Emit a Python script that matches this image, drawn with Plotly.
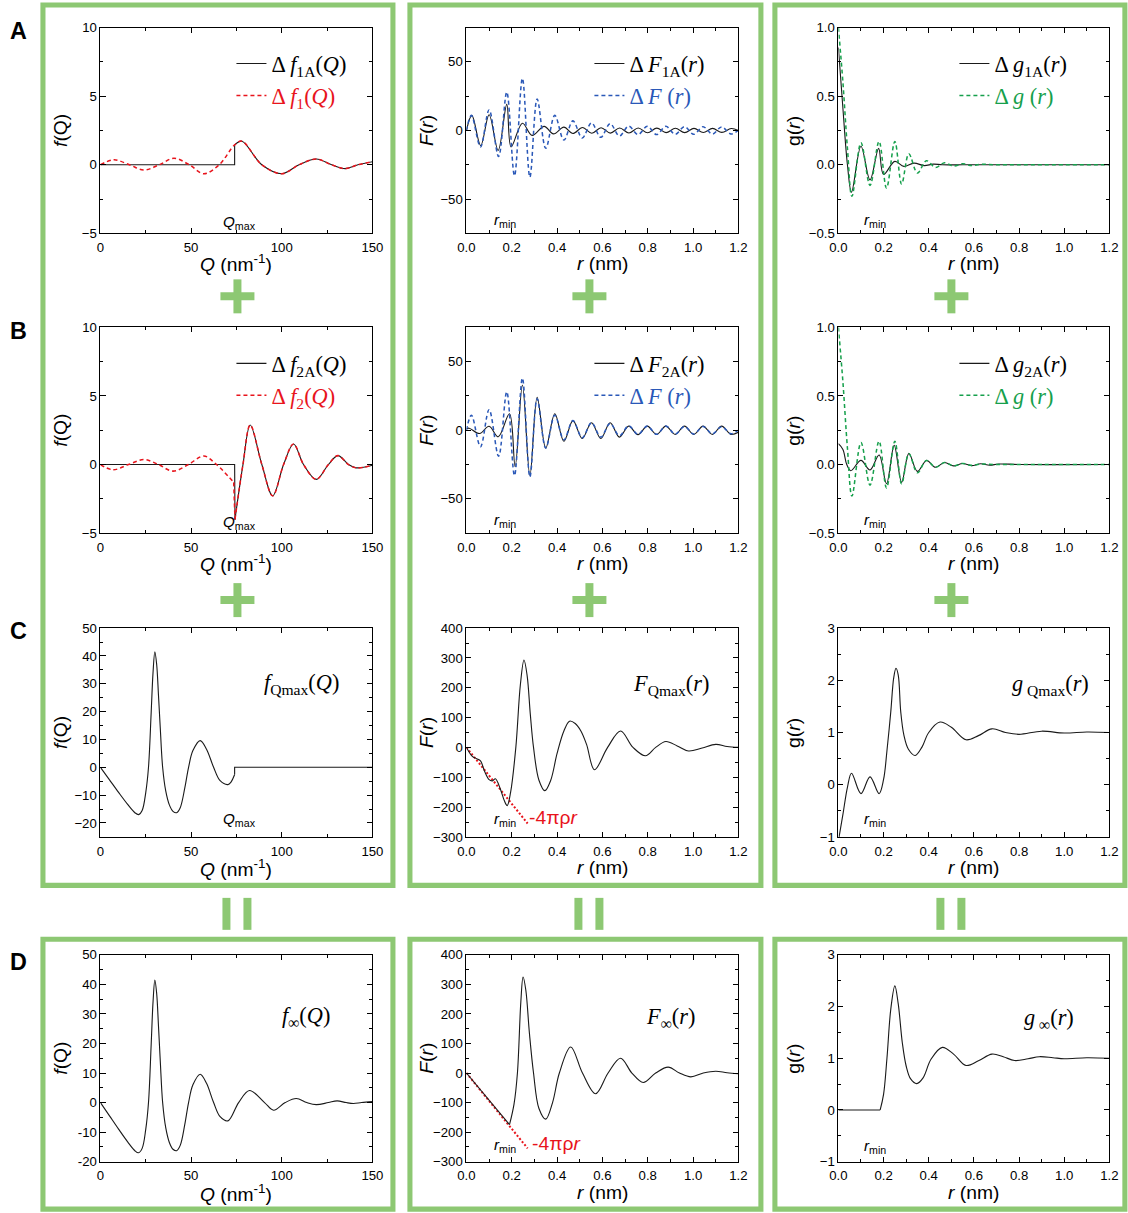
import plotly.graph_objects as go
from plotly.subplots import make_subplots

W, H = 1128, 1213          # reference picture size (layout is designed in these pixels)
# the photographed page is shrunk by SX/SY and the plot starts OX/OY page px in
SX, SY = 0.9825, 0.9885
OX, OY = 8.7, 6.5
WF, HF = round(W / SX - OX), round(H / SY - OY)
K = (1 / SX + 1 / SY) / 2  # size factor for fonts / pixel lengths

# ---------------- data ----------------
Q_MAX = 74.0
R_LINE = [0.0, 0.27]      # -4πρr guide line (r)
F_LINE = [0.0, -255.0]    # -4πρr guide line (F)

# tick labels of panel D1 (written with plain hyphens in the reference)
d1_tickvals = [-20, -10, 0, 10, 20, 30, 40, 50]
d1_ticktext = ["-20", "-10", "0", "10", "20", "30", "40", "50"]

# Row A, col 1: Δf1(Q) (red dashed); Δf1A(Q) is 0 below Qmax and equal to it above
a1_q = [0, 7.5, 16, 24, 32.5, 40.5, 49, 57, 65.5, 74, 78, 89, 100, 109.5, 119, 127.5, 135, 142, 150]
a1_f = [0, 0.36, 0, -0.38, 0, 0.48, 0, -0.65, 0, 1.45, 1.72, 0, -0.65, 0, 0.42, 0, -0.28, 0, 0.22]

# Row B, col 1: Δf2(Q) before Qmax (red only), common part after Qmax
b1_pre_q = [0, 7, 15.5, 24, 32, 40, 48.5, 57, 64, 73.5]
b1_pre_f = [0, -0.38, 0, 0.36, 0, -0.48, 0, 0.62, 0, -1.3]
b1_post_q = [74.2, 78.6, 82.6, 89, 95, 101, 106.5, 112, 119, 125.7, 131, 136.8, 141, 150]
b1_post_f = [-4.0, 0, 2.88, 0, -2.28, 0, 1.5, 0, -1.08, 0, 0.65, 0, -0.24, -0.05]

# Row C, col 1: f_Qmax(Q)
c1_q = [0, 5, 10, 15, 19, 21, 23, 25, 26.5, 28, 29, 30, 31, 32, 33, 34.3, 36, 38, 40, 42, 44, 46.5,
        48.6, 51, 55, 58.5, 62.4, 66, 70.3, 72, 74]
c1_f = [0, -4.5, -9, -13.3, -16.3, -17, -15.5, -9, 0, 20, 34, 41.5, 37, 26, 14, 0, -8.5, -13.5, -15.8,
        -16.3, -14.5, -7.5, 0, 6, 9.6, 6.5, 0, -4.8, -6.2, -5.3, -2.6]

# Row D, col 1: f_inf(Q)
d1_q = [0, 5, 10, 15, 19, 21, 23, 25, 26.5, 28, 29, 30, 31, 32, 33, 34.3, 36, 38, 40, 42, 44, 46.5,
        48.6, 51, 55, 58.5, 62.4, 66, 70.3, 76.2, 82.2, 90.5, 95.5, 101.9, 108, 113.8, 119, 125.7,
        130.5, 135.5, 139.5, 144, 150]
d1_f = [0, -4.5, -9, -13.3, -16.3, -17, -15.5, -9, 0, 20, 34, 41.5, 37, 26, 14, 0, -8.5, -13.5, -15.8,
        -16.3, -14.5, -7.5, 0, 6, 9.6, 6.5, 0, -4.8, -6.2, 0, 4.1, 0, -2.6, 0, 1.36, 0, -0.7, 0,
        0.56, 0, -0.3, 0, 0.3]

# Row A, col 2: ΔF1A(r) (black)
a2_r = [0, 0.024, 0.063, 0.1, 0.14, 0.178, 0.197, 0.247, 0.29, 0.343, 0.384, 0.43, 0.47, 0.512,
        0.553, 0.594, 0.635, 0.676, 0.717, 0.758, 0.799, 0.84, 0.881, 0.922, 0.963, 1.004, 1.045,
        1.086, 1.127, 1.168, 1.2]
a2_F = [0, 11, -11, 11.5, -14.5, 19, -12, 5.3, -3.6, 3, -2.5, 2.4, -2.2, 2.2, -2, 2, -1.9, 1.8,
        -1.8, 1.8, -1.7, 1.7, -1.6, 1.6, -1.6, 1.5, -1.5, 1.5, -1.4, 1.4, 0]

# Rows A/B, col 2: ΔF(r) (blue dashed)
dF_r = [0, 0.022, 0.062, 0.1, 0.142, 0.178, 0.212, 0.247, 0.28, 0.312, 0.35, 0.39, 0.43, 0.47,
        0.511, 0.552, 0.593, 0.634, 0.675, 0.716, 0.757, 0.798, 0.839, 0.88, 0.921, 0.962, 1.003,
        1.044, 1.085, 1.126, 1.167, 1.2]
dF_F = [0, 11, -12, 15, -19, 28, -33, 38, -34, 23, -13, 11, -7, 7, -5.5, 5.5, -5, 5, -4, 3.2, -3,
        3, -3, 3, -2.8, 2.8, -2.8, 2.8, -2.6, 2.6, -2.5, 0]

# Row B, col 2: ΔF2A(r) (black)
b2_r = [0, 0.012, 0.058, 0.1, 0.14, 0.19, 0.215, 0.247, 0.28, 0.312, 0.35, 0.39, 0.43, 0.47,
        0.511, 0.552, 0.593, 0.634, 0.675, 0.716, 0.757, 0.798, 0.839, 0.88, 0.921, 0.962, 1.003,
        1.044, 1.085, 1.126, 1.167, 1.2]
b2_F = [1.0, 1.5, -2.4, 2.9, -4.8, 12, -26.5, 33, -33, 24, -13, 12, -8, 7, -6, 5.5, -6, 5.5, -5,
        3, -3.2, 3, -3, 3, -3, 3, -3, 3, -3, 3, -3, -1.5]

# Row A, col 3: Δg1A(r) (black)
a3_r = [0, 0.02, 0.04, 0.058, 0.1, 0.14, 0.178, 0.2, 0.25, 0.29, 0.335, 0.38, 0.42, 0.46, 0.55, 0.7, 1.2]
a3_g = [0.855, 0.41, 0.0, -0.2, 0.135, -0.11, 0.12, -0.07, 0.025, -0.012, 0.012, -0.006, 0.005,
        0.0, 0.0, 0.0, 0.0]

# Rows A/B, col 3: Δg(r) (green dashed)
dg_r = [0, 0.02, 0.04, 0.06, 0.1, 0.14, 0.18, 0.213, 0.25, 0.28, 0.312, 0.35, 0.39, 0.43, 0.47,
        0.51, 0.55, 0.59, 0.63, 0.7, 0.8, 1.2]
dg_g = [1.0, 0.6, 0.12, -0.23, 0.16, -0.15, 0.17, -0.17, 0.17, -0.14, 0.08, -0.06, 0.03, -0.02,
        0.015, -0.01, 0.008, -0.006, 0.004, 0.0, 0.0, 0.0]

# Row B, col 3: Δg2A(r) (black)
b3_r = [0, 0.02, 0.037, 0.055, 0.1, 0.14, 0.18, 0.213, 0.247, 0.28, 0.312, 0.35, 0.39, 0.43,
        0.47, 0.51, 0.55, 0.59, 0.63, 0.67, 0.71, 0.8, 1.2]
b3_g = [0.152, 0.11, 0.0, -0.045, 0.03, -0.04, 0.07, -0.14, 0.14, -0.13, 0.08, -0.05, 0.03,
        -0.02, 0.015, -0.01, 0.008, -0.008, 0.006, -0.005, 0.004, 0.0, 0.0]

# Row C, col 2: F_Qmax(r)
c2_r = [0, 0.026, 0.045, 0.062, 0.08, 0.1, 0.115, 0.128, 0.15, 0.168, 0.18, 0.195, 0.218, 0.238,
        0.254, 0.268, 0.282, 0.296, 0.32, 0.346, 0.372, 0.4, 0.43, 0.455, 0.48, 0.505, 0.53, 0.565,
        0.623, 0.68, 0.735, 0.79, 0.835, 0.88, 0.93, 0.98, 1.04, 1.1, 1.15, 1.2]
c2_F = [0, -30, -38, -45, -80, -108, -112, -105, -140, -180, -195, -150, 0, 210, 293, 240, 110, 0,
        -110, -145, -110, -20, 55, 88, 80, 55, 10, -75, 0, 55, 0, -28, 0, 20, 5, -12, -2, 10, 3, 0]

# Row D, col 2: F_inf(r); straight part below r_min, then oscillating part
d2_lin_r = [0, 0.19]
d2_lin_F = [0, -175]
d2_r = [0.19, 0.21, 0.225, 0.24, 0.25, 0.262, 0.278, 0.296, 0.32, 0.35, 0.38, 0.41, 0.46, 0.512,
        0.57, 0.625, 0.68, 0.73, 0.78, 0.835, 0.89, 0.94, 0.99, 1.045, 1.1, 1.15, 1.2]
d2_F = [-175, -105, 0, 240, 325, 281, 134, 0, -120, -156, -100, 0, 88, 0, -70, 0, 50, 0, -32, 0,
        20, 0, -13, 0, 6, 1, -2]

# Row C, col 3: g_Qmax(r)
c3_r = [0.003, 0.02, 0.04, 0.058, 0.1, 0.14, 0.18, 0.2, 0.215, 0.232, 0.245, 0.255, 0.265, 0.276,
        0.29, 0.31, 0.34, 0.37, 0.4, 0.45, 0.5, 0.565, 0.62, 0.68, 0.74, 0.8, 0.9, 1.0, 1.1, 1.2]
c3_g = [-1.0, -0.57, -0.05, 0.22, -0.17, 0.15, -0.17, 0.1, 0.65, 1.4, 2.05, 2.23, 2.1, 1.4, 0.95,
        0.68, 0.56, 0.72, 1.0, 1.2, 1.1, 0.86, 0.94, 1.07, 1.0, 0.965, 1.025, 0.99, 1.01, 1.0]

# Row D, col 3: g_inf(r); zero below r_min
d3_lin_r = [0, 0.185]
d3_lin_g = [0, 0]
d3_r = [0.185, 0.2, 0.215, 0.232, 0.25, 0.265, 0.283, 0.3, 0.32, 0.347, 0.375, 0.41, 0.46, 0.51,
        0.565, 0.62, 0.68, 0.73, 0.78, 0.84, 0.89, 0.95, 1.0, 1.1, 1.2]
d3_g = [0, 0.3, 1.0, 1.95, 2.4, 2.05, 1.3, 0.85, 0.6, 0.51, 0.62, 0.98, 1.21, 1.08, 0.86, 0.95,
        1.08, 1.03, 0.955, 0.99, 1.03, 1.01, 0.99, 1.01, 1.0]

# ---------------- styling ----------------
BLACK = "#1a1a1a"
RED = "#e8141c"
BLUE = "#2a58b8"
GREEN = "#16a04c"
FRAME = "#8dc873"
SANS = "Liberation Sans"
SERIF = "Liberation Serif"

# plot-area positions in reference pixels
col_px = [(100, 372), (466, 738), (838, 1109)]
row_px = [(27, 233), (327, 533), (628, 837), (955, 1162)]
x_title_gap = [30, 30, 31, 31]


def px(x):
    return (x / SX - OX) / WF


def py(y):
    return 1 - (y / SY - OY) / HF


def fs(n):
    return n * K


fig = make_subplots(rows=4, cols=3)


def add_line(x, y, row, col, color, width=1.1, dash=None, shape="spline", name="",
             legend="legend", showlegend=False):
    fig.add_trace(go.Scatter(x=x, y=y, mode="lines", name=name, legend=legend,
                             showlegend=showlegend, hoverinfo="skip",
                             line=dict(color=color, width=width * K, dash=dash, shape=shape,
                                       smoothing=1.0)),
                  row=row, col=col)


DASH = "4px,3px"
DOT = "2px,2px"

# ---- Row A ----
qa = [q for q in a1_q if q >= Q_MAX]
fa = [f for q, f in zip(a1_q, a1_f) if q >= Q_MAX]
add_line([0, Q_MAX, Q_MAX], [0, 0, fa[0]], 1, 1, BLACK, shape="linear",
         name="Δ <i>f</i><sub>1A</sub>(<i>Q</i>)", legend="legend", showlegend=True)
add_line(qa, fa, 1, 1, BLACK, legend="legend")
add_line(a1_q, a1_f, 1, 1, RED, 1.5, DASH,
         name="<span style='color:%s'>Δ <i>f</i><sub>1</sub>(<i>Q</i>)</span>" % RED,
         legend="legend", showlegend=True)

add_line(a2_r, a2_F, 1, 2, BLACK, name="Δ <i>F</i><sub>1A</sub>(<i>r</i>)",
         legend="legend2", showlegend=True)
add_line(dF_r, dF_F, 1, 2, BLUE, 1.5, DASH,
         name="<span style='color:%s'>Δ <i>F</i> (<i>r</i>)</span>" % BLUE,
         legend="legend2", showlegend=True)

add_line(a3_r, a3_g, 1, 3, BLACK, name="Δ <i>g</i><sub>1A</sub>(<i>r</i>)",
         legend="legend3", showlegend=True)
add_line(dg_r, dg_g, 1, 3, GREEN, 1.5, DASH,
         name="<span style='color:%s'>Δ <i>g</i> (<i>r</i>)</span>" % GREEN,
         legend="legend3", showlegend=True)

# ---- Row B ----
add_line([0, Q_MAX, b1_post_q[0]], [0, 0, b1_post_f[0]], 2, 1, BLACK, shape="linear",
         name="Δ <i>f</i><sub>2A</sub>(<i>Q</i>)", legend="legend4", showlegend=True)
add_line(b1_post_q, b1_post_f, 2, 1, BLACK, legend="legend4")
add_line(b1_pre_q, b1_pre_f, 2, 1, RED, 1.5, DASH,
         name="<span style='color:%s'>Δ <i>f</i><sub>2</sub>(<i>Q</i>)</span>" % RED,
         legend="legend4", showlegend=True)
add_line([b1_pre_q[-1], b1_post_q[0]], [b1_pre_f[-1], b1_post_f[0]], 2, 1, RED, 1.5, DASH,
         shape="linear", legend="legend4")
add_line(b1_post_q, b1_post_f, 2, 1, RED, 1.5, DASH, legend="legend4")

add_line(b2_r, b2_F, 2, 2, BLACK, name="Δ <i>F</i><sub>2A</sub>(<i>r</i>)",
         legend="legend5", showlegend=True)
add_line(dF_r, dF_F, 2, 2, BLUE, 1.5, DASH,
         name="<span style='color:%s'>Δ <i>F</i> (<i>r</i>)</span>" % BLUE,
         legend="legend5", showlegend=True)

add_line(b3_r, b3_g, 2, 3, BLACK, name="Δ <i>g</i><sub>2A</sub>(<i>r</i>)",
         legend="legend6", showlegend=True)
add_line(dg_r, dg_g, 2, 3, GREEN, 1.5, DASH,
         name="<span style='color:%s'>Δ <i>g</i> (<i>r</i>)</span>" % GREEN,
         legend="legend6", showlegend=True)

# ---- Row C ----
add_line(c1_q, c1_f, 3, 1, BLACK)
add_line([c1_q[-1], Q_MAX, 150], [c1_f[-1], 0, 0], 3, 1, BLACK, shape="linear")
add_line(R_LINE, F_LINE, 3, 2, RED, 2, DOT, shape="linear")
add_line(c2_r, c2_F, 3, 2, BLACK)
add_line(c3_r, c3_g, 3, 3, BLACK)

# ---- Row D ----
add_line(d1_q, d1_f, 4, 1, BLACK)
add_line(R_LINE, F_LINE, 4, 2, RED, 2, DOT, shape="linear")
add_line(d2_lin_r, d2_lin_F, 4, 2, BLACK, shape="linear")
add_line(d2_r, d2_F, 4, 2, BLACK)
add_line(d3_lin_r, d3_lin_g, 4, 3, BLACK, shape="linear")
add_line(d3_r, d3_g, 4, 3, BLACK)

# ---------------- axes ----------------
x_specs = {
    1: dict(range=[0, 150], dtick=50, minor=25, fmt="d"),
    2: dict(range=[0, 1.2], dtick=0.2, minor=0.1, fmt=".1f"),
    3: dict(range=[0, 1.2], dtick=0.2, minor=0.1, fmt=".1f"),
}
y_specs = {
    (1, 1): ([-5, 10], 5, 2.5, "d"), (1, 2): ([-75, 75], 50, 25, "d"), (1, 3): ([-0.5, 1.0], 0.5, 0.25, ".1f"),
    (2, 1): ([-5, 10], 5, 2.5, "d"), (2, 2): ([-75, 75], 50, 25, "d"), (2, 3): ([-0.5, 1.0], 0.5, 0.25, ".1f"),
    (3, 1): ([-25, 50], 10, 5, "d"), (3, 2): ([-300, 400], 100, 50, "d"), (3, 3): ([-1, 3], 1, 0.5, "d"),
    (4, 1): ([-20, 50], 10, 5, "d"), (4, 2): ([-300, 400], 100, 50, "d"), (4, 3): ([-1, 3], 1, 0.5, "d"),
}
x_titles = {1: "<i>Q</i> (nm<sup>-1</sup>)", 2: "<i>r</i> (nm)", 3: "<i>r</i> (nm)"}
y_titles = {1: "<i>f</i>(Q)", 2: "<i>F</i>(<i>r</i>)", 3: "g(<i>r</i>)"}
y_title_x = {1: 60, 2: 426, 3: 793}

common = dict(showline=True, linecolor="black", linewidth=1, mirror="allticks",
              ticks="inside", ticklen=fs(5), tickwidth=1, tickcolor="black",
              showgrid=False, zeroline=False,
              tickfont=dict(family=SANS, size=fs(13), color="black"))

annotations = []
for r in range(1, 5):
    for c in range(1, 4):
        idx = (r - 1) * 3 + c
        xs = x_specs[c]
        yr, ydt, ymin, yfmt = y_specs[(r, c)]
        x0, x1 = col_px[c - 1]
        y0, y1 = row_px[r - 1]
        fig.layout["xaxis%d" % idx].update(
            domain=[px(x0), px(x1)], range=xs["range"], dtick=xs["dtick"], tick0=0,
            tickformat=xs["fmt"], ticklabelstandoff=2,
            minor=dict(dtick=xs["minor"], tick0=0, ticks="inside", ticklen=fs(3), tickcolor="black"),
            **common)
        fig.layout["yaxis%d" % idx].update(
            domain=[py(y1), py(y0)], range=yr, dtick=ydt, tick0=0, tickformat=yfmt,
            minor=dict(dtick=ymin, tick0=0, ticks="inside", ticklen=fs(3), tickcolor="black"),
            **common)
        # axis titles
        annotations.append(dict(text=x_titles[c], x=px((x0 + x1) / 2),
                                y=py(y1 + x_title_gap[r - 1]),
                                xref="paper", yref="paper", showarrow=False,
                                xanchor="center", yanchor="middle",
                                font=dict(family=SANS, size=fs(19), color="black")))
        annotations.append(dict(text=y_titles[c], x=px(y_title_x[c]), y=py((y0 + y1) / 2),
                                xref="paper", yref="paper", showarrow=False, textangle=-90,
                                xanchor="center", yanchor="middle",
                                font=dict(family=SANS, size=fs(19), color="black")))

# panel D1 writes its negative labels with plain hyphens
fig.layout["yaxis10"].update(tickmode="array", tickvals=d1_tickvals, ticktext=d1_ticktext)


def note(text, x, y, size=15, color="black", family=SANS):
    annotations.append(dict(text=text, x=px(x), y=py(y), xref="paper", yref="paper",
                            showarrow=False, xanchor="center", yanchor="middle",
                            font=dict(family=family, size=fs(size), color=color)))


# Qmax / rmin markers
QM = "<i>Q</i><sub>max</sub>"
RM = "<i>r</i><sub>min</sub>"
for yy in (222, 522, 820):
    note(QM, 239, yy)
for yy in (220, 520, 820):
    note(RM, 505, yy)
    note(RM, 875, yy)
note(RM, 505, 1146)
note(RM, 875, 1147)
note("-4πρ<i>r</i>", 553, 818, size=19, color=RED)
note("-4πρ<i>r</i>", 556, 1144, size=19, color=RED)

# function labels in rows C and D
note("<i>f</i><sub>Qmax</sub>(<i>Q</i>)", 301, 684, size=22, family=SERIF)
note("<i>F</i><sub>Qmax</sub>(<i>r</i>)", 671, 685, size=22, family=SERIF)
note("<i>g</i><sub> Qmax</sub>(<i>r</i>)", 1050, 685, size=22, family=SERIF)
note("<i>f</i><sub>∞</sub>(<i>Q</i>)", 306, 1017, size=22, family=SERIF)
note("<i>F</i><sub>∞</sub>(<i>r</i>)", 670, 1018, size=22, family=SERIF)
note("<i>g</i><sub> ∞</sub>(<i>r</i>)", 1049, 1019, size=22, family=SERIF)

# panel letters
for lab, yy in (("A", 30), ("B", 331), ("C", 631), ("D", 962)):
    note("<b>%s</b>" % lab, 18, yy, size=23)

# ---------------- frames, plus and equal signs ----------------
shapes = []


def rect_outline(x0, y0, x1, y1):
    shapes.append(dict(type="rect", xref="paper", yref="paper", x0=px(x0), x1=px(x1),
                       y0=py(y1), y1=py(y0), line=dict(color=FRAME, width=5 * K),
                       fillcolor="rgba(0,0,0,0)", layer="below"))


def block(x0, y0, x1, y1):
    shapes.append(dict(type="rect", xref="paper", yref="paper", x0=px(x0), x1=px(x1),
                       y0=py(y1), y1=py(y0), line=dict(width=0), fillcolor=FRAME))


for (fx0, fx1) in ((42.5, 392.5), (409.5, 760.5), (774.5, 1124.5)):
    rect_outline(fx0, 4.5, fx1, 885.5)
    rect_outline(fx0, 939.5, fx1, 1209.5)

for cx in (237, 589, 951):
    for cy in (296, 600):
        block(cx - 4, cy - 17, cx + 4, cy + 17)
        block(cx - 17, cy - 4, cx + 17, cy + 4)
    block(cx - 15, 898, cx - 7, 930)
    block(cx + 6, 898, cx + 14, 930)

# ---------------- legends ----------------
leg_font = dict(family=SERIF, size=fs(22), color="black")
legend_pos = {"legend": (231, 42), "legend2": (589, 42), "legend3": (954, 42),
              "legend4": (231, 342), "legend5": (589, 342), "legend6": (954, 342)}
legend_layout = {}
for key, (lx, ly) in legend_pos.items():
    legend_layout[key] = dict(x=px(lx), y=py(ly), xanchor="left", yanchor="top",
                              xref="paper", yref="paper", bgcolor="rgba(0,0,0,0)",
                              borderwidth=0, font=leg_font, itemwidth=30,
                              tracegroupgap=0, traceorder="normal")

fig.update_layout(width=WF, height=HF, margin=dict(l=0, r=0, t=0, b=0),
                  paper_bgcolor="white", plot_bgcolor="white",
                  annotations=annotations, shapes=shapes, showlegend=True,
                  **legend_layout)

fig.write_html("out.html", config={"displayModeBar": False},
               post_script="document.body.style.margin='0';")
